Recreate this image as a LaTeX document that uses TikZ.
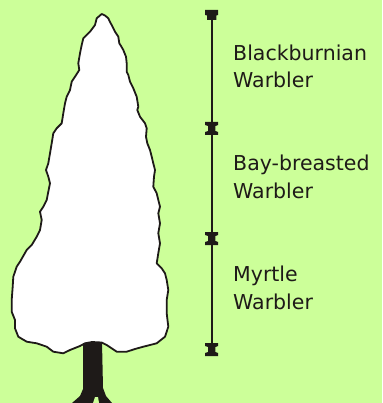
\documentclass[tikz,border=0pt]{standalone}
\usepackage{fontspec}
\setmainfont{DejaVu Sans}
\definecolor{meadow}{HTML}{CCFF99}
\definecolor{ink}{HTML}{1E1A18}
\begin{document}
\begin{tikzpicture}[x=1pt,y=-1pt,
  outline/.style={draw=ink,line width=1.8pt,line join=round,fill=white},
  bark/.style={fill=ink},
  scaleline/.style={draw=ink,line width=1.6pt},
  label/.style={anchor=base west,inner sep=0pt,text=ink,align=left,
    font=\fontsize{20.5}{27.5}\selectfont},
  ibeam/.pic={\fill[ink] (-6.5,-6.5) -- (6.5,-6.5) -- (6.5,-3.5) -- (3.6,-2.5)
      -- (3.6,2.5) -- (6.5,3.5) -- (6.5,6.5) -- (-6.5,6.5) -- (-6.5,3.5)
      -- (-3.6,2.5) -- (-3.6,-2.5) -- (-6.5,-3.5) -- cycle;},
  topcap/.pic={\fill[ink] (-6.5,-5) -- (6.5,-5) -- (6.5,0) -- (4.6,0.5)
      -- (4.6,5) -- (-4.6,5) -- (-4.6,0.5) -- (-6.5,0) -- cycle;}]

% background
\fill[meadow] (0,0) rectangle (382,403);
\useasboundingbox (0,0) rectangle (382,403);

% trunk
\fill[bark] (83,342) -- (83,389) -- (80,396) -- (72,403) -- (112,403)
  -- (106,396) -- (103,388) -- (102,342) -- cycle;
\fill[meadow] (93,403) -- (95,397) -- (98,397) -- (99,403) -- cycle;

% crown of the spruce
\draw[outline] (101.7,14)
  -- (105,15.5) -- (108.3,18.3) -- (110,22) -- (111.7,25) -- (115,31.7)
  -- (118.3,36.7) -- (119.3,43.3) -- (121,46) -- (123.3,50) -- (126,56.7)
  -- (126.7,63.3) -- (126.7,71.7) -- (128.3,75) -- (130,81.7) -- (133.3,88.3)
  -- (136.7,96.7) -- (138.3,106.7) -- (137.3,110) -- (140,116.7) -- (145,123.3)
  -- (146.7,128.3) -- (146,136.7) -- (147.3,143.3) -- (150,150) -- (151.7,156.7)
  -- (153.3,163.3) -- (155,170) -- (154,176.7) -- (153.3,186.7) -- (156.7,193.3)
  -- (158.3,200) -- (160,206.7) -- (158.3,213.3) -- (160,223.3) -- (158.3,233.3)
  -- (160,243.3) -- (158.3,253.3) -- (156.7,263.3) -- (161.7,268.3) -- (165,273.3)
  -- (166.7,280) -- (168.3,290) -- (166.7,300) -- (166.7,313.3) -- (168.3,326.7)
  -- (165,336.7) -- (156.7,343.3) -- (143.3,346.7) -- (135,349) -- (126.7,351.7)
  -- (116.7,351.7) -- (106.7,345) -- (101.7,342.5) -- (92,342) -- (85,343.3)
  -- (80,346) -- (70,350) -- (63.3,353.3) -- (53.3,351.7) -- (46.7,346.7)
  -- (36.7,343.3) -- (26.7,341.7) -- (18.3,336.7) -- (15,328.3) -- (15,320)
  -- (11.7,311.7) -- (11.7,300) -- (12.7,286.7) -- (13.3,276.7) -- (16.7,266.7)
  -- (20,261.7) -- (26.7,250) -- (31.7,245) -- (36.7,236.7) -- (40,230)
  -- (41.7,220) -- (40,211.7) -- (43.3,206.7) -- (46.7,200) -- (48.3,191.7)
  -- (50,183.3) -- (48.3,176.7) -- (46,170) -- (48.3,163.3) -- (50,153.3)
  -- (51.7,143.3) -- (53.3,133.3) -- (56.7,128.3) -- (61.7,123.3) -- (63.3,113.3)
  -- (65,103.3) -- (66.7,96.7) -- (70,90) -- (71.7,81.7) -- (75,76.7)
  -- (79.3,70) -- (78.3,63.3) -- (80,53.3) -- (81.7,45) -- (83.3,38.3)
  -- (90,31.7) -- (95,25) -- (96.7,18.3) -- cycle;

% height scale
\coordinate (s0) at (211.7,15);
\coordinate (s1) at (211.7,128.5);
\coordinate (s2) at (211.7,238.5);
\coordinate (s3) at (211.7,349.5);
\draw[scaleline] (s0) -- (s1) -- (s2) -- (s3);
\pic at (s0) {topcap};
\pic at (s1) {ibeam};
\pic at (s2) {ibeam};
\pic at (s3) {ibeam};

% zone labels (anchored on the baseline of the second line)
\node[label] (blackburnian) at (233,88) {Blackburnian\\Warbler};
\node[label] (baybreasted) at (233,198) {Bay-breasted\\Warbler};
\node[label] (myrtle) at (233,309) {Myrtle\\Warbler};
\end{tikzpicture}
\end{document}
